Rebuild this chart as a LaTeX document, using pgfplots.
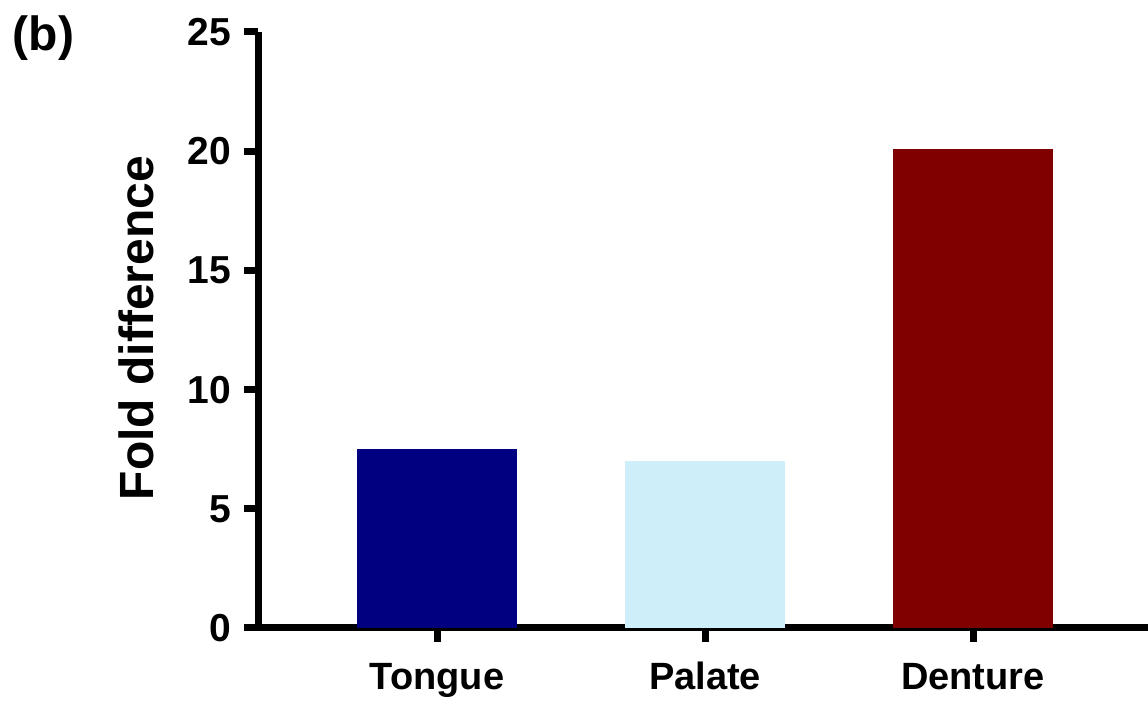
\documentclass[border=0pt]{standalone}
\usepackage{fontspec}
\setmainfont{Liberation Sans}
\usepackage{pgfplots}
\pgfplotsset{compat=1.18}
\definecolor{cTongue}{RGB}{0,0,128}
\definecolor{cPalate}{RGB}{206,238,250}
\definecolor{cDenture}{RGB}{128,0,0}
\begin{document}
\begin{tikzpicture}[x=1pt,y=1pt]
\useasboundingbox (0,0) rectangle (574,352);
\node[font=\bfseries\fontsize{24}{28}\selectfont] at (21.75,333) {(b)};
\node[font=\bfseries\fontsize{24}{28}\selectfont, rotate=90] at (68,188) {Fold difference};
\begin{axis}[
  at={(129pt,38pt)}, anchor=south west,
  scale only axis, width=445pt, height=298pt,
  xmin=-0.668, xmax=2.653, ymin=0, ymax=25,
  axis x line*=bottom, axis y line*=left,
  axis line style={line width=3.5pt, -},
  every tick/.style={line width=3.5pt, black},
  tick align=outside, major tick length=7pt,
  xtick={0,1,2}, xticklabels={Tongue,Palate,Denture},
  ytick={0,5,10,15,20,25},
  /pgf/number format/assume math mode=true,
  tick label style={font=\bfseries\fontsize{19.5}{23}\selectfont, black},
  xticklabel style={font=\bfseries\fontsize{19}{23}\selectfont, text height=14pt, text depth=4pt, yshift=-6pt},
  yticklabel style={xshift=-3pt},
  ybar, bar width=80pt, bar shift=0pt,
]
\addplot[fill=cTongue, draw=none] coordinates {(0,7.5)};
\addplot[fill=cPalate, draw=none] coordinates {(1,7.0)};
\addplot[fill=cDenture, draw=none] coordinates {(2,20.1)};
\end{axis}
\end{tikzpicture}
\end{document}
